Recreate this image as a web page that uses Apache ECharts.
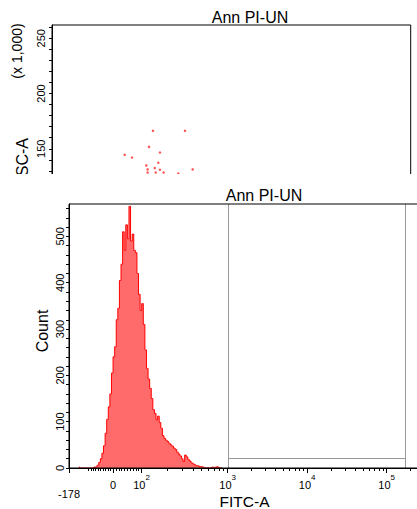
<!DOCTYPE html>
<html>
<head>
<meta charset="utf-8">
<script src="https://cdn.jsdelivr.net/npm/echarts@6/dist/echarts.min.js"></script>
<style>
html,body{margin:0;padding:0;background:#fff;}
#chart{width:417px;height:509px;}
</style>
</head>
<body>
<div id="chart"></div>
<script>
// ---------------- DATA ----------------
// Top panel: SSC-A (x 1,000) vs FSC-A (x 1,000) events (only the visible part)
const dotFSC = [73.8, 97.2, 70.9, 78.9, 53.1, 58.5, 77.7, 68.9, 69.9, 75.1, 78.9, 69.9, 75.8, 81.6, 92.3, 102.8];
const dotSSC = [166.2, 166.2, 151.7, 146.6, 144.5, 142.1, 137.3, 134.9, 131.3, 132.5, 131.0, 128.5, 128.5, 128.5, 127.6, 131.3];
const topYLabels = [150, 200, 250];
const topYTicks = [100, 110, 120, 130, 140, 150, 160, 170, 180, 190, 200, 210, 220, 230, 240, 250, 260];

// Bottom panel: FITC-A histogram, counts per display channel (biexponential display)
const histFirstChannel = 1.13;   // display units (decades) of first bin centre
const histChannelWidth = 0.02;
const histCounts = [
  2, 0, 0, 0, 0, 0, 0, 0, 0, 0,
  2, 3, 6, 12, 20, 32, 48, 75, 105, 132,
  160, 205, 240, 262, 320, 345, 405, 440, 510, 470,
  525, 495, 565, 490, 505, 470, 465, 420, 375, 340,
  355, 310, 255, 215, 192, 172, 150, 126, 118, 104,
  112, 98, 86, 70, 64, 60, 57, 53, 50, 47,
  43, 40, 34, 30, 26, 20, 14, 28, 24, 18,
  15, 11, 9, 7, 5, 5, 3, 3, 2, 1,
  0, 1, 0, 1, 2, 1, 2, 3, 1, 0, 1
];
const countLabels = [0, 100, 200, 300, 400, 500];
const countTicks = [0, 20, 40, 60, 80, 100, 120, 140, 160, 180, 200, 220, 240, 260, 280, 300, 320, 340, 360, 380, 400, 420, 440, 460, 480, 500, 520, 540, 560];
const countMax = 570;

// FITC-A axis: tick labels and ticks (data values)
const fitcMin = -178;
const fitcMax = 262144;
const fitcLabelValues = [-178, 0, 100, 1000, 10000, 100000];
const fitcLabelBase = ['-178', '0', '10', '10', '10', '10'];
const fitcLabelExp = ['', '', '2', '3', '4', '5'];
const fitcMinorTicks = [-100, -90, -80, -70, -60, -50, -40, -30, -20, -10,
  10, 20, 30, 40, 50, 60, 70, 80, 90,
  200, 300, 400, 500, 600, 700, 800, 900,
  2000, 3000, 4000, 5000, 6000, 7000, 8000, 9000,
  20000, 30000, 40000, 50000, 60000, 70000, 80000, 90000, 200000];
// Biexponential display scale anchors (value -> display decades)
const scaleValues = [-178, 0, 100, 1000];
const scaleDisplay = [1.006, 1.560, 1.918, 3];

// Gate P2
const gateName = 'P2';
const gateFITC = [1010, 170000];
const gateCount = 20;

const titleText = 'Ann PI-UN';

// ---------------- SCALE ----------------
function toDisplay(v) {
  if (v >= scaleValues[3]) return Math.log10(v);
  if (v >= scaleValues[2]) {
    return scaleDisplay[2] + (Math.log10(v) - Math.log10(scaleValues[2])) /
      (Math.log10(scaleValues[3]) - Math.log10(scaleValues[2])) * (scaleDisplay[3] - scaleDisplay[2]);
  }
  if (v >= scaleValues[1]) {
    return scaleDisplay[1] + (v - scaleValues[1]) / (scaleValues[2] - scaleValues[1]) * (scaleDisplay[2] - scaleDisplay[1]);
  }
  return scaleDisplay[1] + (v - scaleValues[1]) / (scaleValues[1] - scaleValues[0]) * (scaleDisplay[1] - scaleDisplay[0]);
}

const FONT = "'Liberation Sans', Arial, sans-serif";
const histData = histCounts.map((c, i) => [histFirstChannel + i * histChannelWidth, c]);
const gL = toDisplay(gateFITC[0]);
const gR = toDisplay(gateFITC[1]);

const chart = echarts.init(document.getElementById('chart'), null, {renderer: 'svg'});

const option = {
  animation: false,
  backgroundColor: '#fff',
  grid: [
    {left: 52, top: 25, width: 358.7, height: 179, outerBoundsMode: 'none', containLabel: false,
      show: true, borderColor: '#000', borderWidth: 1, backgroundColor: 'transparent', z: 0},
    {left: 69, top: 204, width: 351, height: 264, outerBoundsMode: 'none', containLabel: false,
      show: true, borderColor: '#000', borderWidth: 1, backgroundColor: 'transparent', z: 12}
  ],
  xAxis: [
    {gridIndex: 0, type: 'value', min: 0, max: 262.144, show: false},
    {gridIndex: 1, type: 'value', position: 'bottom', min: toDisplay(fitcMin), max: toDisplay(fitcMax), z: 12,
      name: 'FITC-A', nameLocation: 'middle', nameGap: 25, nameMoveOverlap: false,
      nameTextStyle: {fontFamily: FONT, fontSize: 15.5, color: '#000'},
      axisLine: {show: true, onZero: false, lineStyle: {color: '#000', width: 1}},
      axisTick: {show: true, length: 5, lineStyle: {color: '#000'}, customValues: fitcLabelValues.map(toDisplay)},
      splitLine: {show: false},
      axisLabel: {show: true, margin: 5, color: '#000', fontFamily: FONT, customValues: fitcLabelValues.map(toDisplay),
        formatter: function (val) {
          const i = fitcLabelValues.findIndex(v => Math.abs(toDisplay(v) - val) < 1e-6);
          if (i < 0) return '';
          if (i === 0) return '{lo|' + fitcLabelBase[i] + '}';
          if (!fitcLabelExp[i]) return '{b|' + fitcLabelBase[i] + '}';
          return '{b|' + fitcLabelBase[i] + '}{s|' + fitcLabelExp[i] + '}';
        },
        rich: {
          b: {fontSize: 11, padding: [6, 0, 0, 0], verticalAlign: 'bottom', fontFamily: FONT, color: '#000'},
          s: {fontSize: 8, lineHeight: 9, verticalAlign: 'top', fontFamily: FONT, color: '#000'},
          lo: {fontSize: 11, padding: [15, 0, 0, 0], verticalAlign: 'bottom', fontFamily: FONT, color: '#000'}
        }
      }
    },
    {gridIndex: 1, type: 'value', position: 'bottom', min: toDisplay(fitcMin), max: toDisplay(fitcMax), z: 12,
      axisLine: {show: false, onZero: false},
      axisTick: {show: true, length: 3, lineStyle: {color: '#000'}, customValues: fitcMinorTicks.map(toDisplay)},
      axisLabel: {show: false},
      splitLine: {show: false}
    }
  ],
  yAxis: [
    {gridIndex: 0, type: 'value', min: 100, max: 262,
      axisLine: {show: true, lineStyle: {color: '#000'}},
      axisTick: {show: true, length: 3, lineStyle: {color: '#000'}, customValues: topYTicks},
      axisLabel: {show: true, rotate: 90, margin: 6, fontSize: 11, color: '#000', fontFamily: FONT, customValues: topYLabels},
      splitLine: {show: false}
    },
    {gridIndex: 1, type: 'value', min: 0, max: countMax, z: 12,
      name: 'Count', nameLocation: 'middle', nameGap: 19, nameMoveOverlap: false,
      nameTextStyle: {fontFamily: FONT, fontSize: 16, color: '#000', padding: [0, 0, 0, 10]},
      axisLine: {show: true, lineStyle: {color: '#000'}},
      axisTick: {show: true, length: 3, lineStyle: {color: '#000'}, customValues: countTicks},
      axisLabel: {show: true, rotate: 90, margin: 4, fontSize: 11, color: '#000', fontFamily: FONT, customValues: countLabels},
      splitLine: {show: false}
    }
  ],
  graphic: [
    {type: 'text', x: 250, y: 17, z: 1, style: {text: titleText, font: '16px ' + FONT, fill: '#000', align: 'center', verticalAlign: 'middle'}},
    {type: 'text', x: 17, y: 51, rotation: Math.PI / 2, z: 1, style: {text: '(x 1,000)', font: '14px ' + FONT, fill: '#000', align: 'center', verticalAlign: 'middle'}},
    {type: 'text', x: 22.5, y: 162.5, rotation: Math.PI / 2, z: 1, style: {text: 'SSC-A', font: '16px ' + FONT, fill: '#000', align: 'center', verticalAlign: 'middle'}},
    {type: 'rect', z: 5, shape: {x: 0, y: 174, width: 417, height: 335}, style: {fill: '#fff'}},
    {type: 'text', x: 264, y: 195, z: 20, style: {text: titleText, font: '16px ' + FONT, fill: '#000', align: 'center', verticalAlign: 'middle'}}
  ],
  series: [
    {type: 'scatter', xAxisIndex: 0, yAxisIndex: 0, z: 2, symbolSize: 2.5,
      itemStyle: {color: '#ff2a2a'},
      data: dotFSC.map((x, i) => [x, dotSSC[i]])
    },
    {type: 'line', xAxisIndex: 1, yAxisIndex: 1, z: 10, step: 'middle', symbol: 'none',
      lineStyle: {color: '#ff0000', width: 1},
      areaStyle: {color: '#ff6b6b', opacity: 1},
      data: histData,
      markLine: {
        silent: true, symbol: ['none', 'none'], label: {show: false},
        lineStyle: {color: '#999', width: 1, type: 'solid'},
        data: [
          [{coord: [gL, 0]}, {coord: [gL, countMax]}],
          [{coord: [gR, 0]}, {coord: [gR, countMax]}],
          [{coord: [gL, gateCount]}, {coord: [gR, gateCount]}]
        ]
      },
      markArea: {
        silent: true,
        itemStyle: {color: 'transparent'},
        label: {show: true, position: 'inside', color: '#000', fontSize: 13, fontFamily: FONT},
        data: [[{name: gateName, coord: [gL, 0]}, {coord: [gR, countMax]}]]
      }
    }
  ]
};
chart.setOption(option);
</script>
</body>
</html>
